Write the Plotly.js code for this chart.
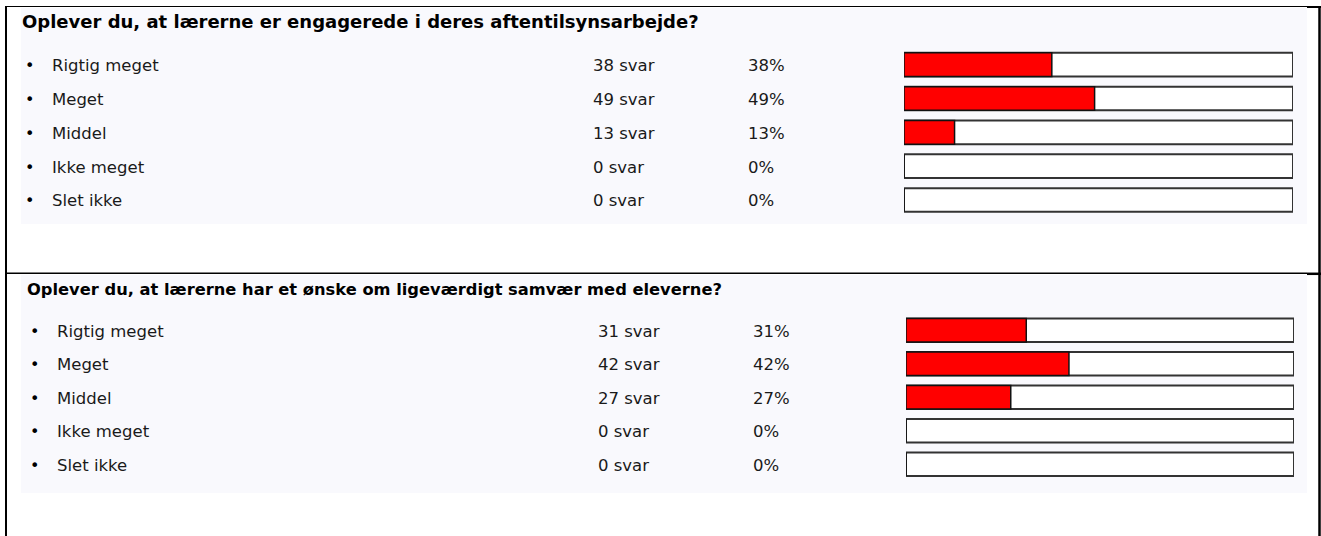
<!DOCTYPE html>
<html>
<head>
<meta charset="utf-8">
<script src="https://cdn.plot.ly/plotly-3.0.1.min.js"></script>
<style>html,body{margin:0;padding:0;background:#fff;}#chart{width:1321px;height:536px;}</style>
</head>
<body>
<div id="chart"></div>
<script>
// ---- data ----
const categories = ["Rigtig meget", "Meget", "Middel", "Ikke meget", "Slet ikke"];
const q1Title = "Oplever du, at lærerne er engagerede i deres aftentilsynsarbejde?";
const q1Counts = [38, 49, 13, 0, 0];
const q1Percent = [38, 49, 13, 0, 0];
const q2Title = "Oplever du, at lærerne har et ønske om ligeværdigt samvær med eleverne?";
const q2Counts = [31, 42, 27, 0, 0];
const q2Percent = [31, 42, 27, 0, 0];
const trackPercent = [100, 100, 100, 100, 100];
const countSuffix = " svar";

// ---- layout helpers ----
const W = 1321, H = 536;
const px = v => v / W;
const py = v => 1 - v / H;
const FONT = "DejaVu Sans, Verdana, sans-serif";

function panelTraces(xa, ya, pct) {
  return [
    {type: "bar", orientation: "h", x: trackPercent, y: categories, xaxis: xa, yaxis: ya,
     width: 0.7, marker: {color: "#ffffff", line: {color: "#333333", width: 2}},
     hoverinfo: "skip", showlegend: false},
    {type: "bar", orientation: "h", x: pct, y: categories, xaxis: xa, yaxis: ya,
     width: 0.7, marker: {color: "#ff0000", line: {color: "#111111", width: 1.5}},
     hoverinfo: "skip", showlegend: false}
  ];
}

const data = [...panelTraces("x", "y", q1Percent), ...panelTraces("x2", "y2", q2Percent)];

const annotations = [];
function panelText(yref, counts, pct, title, xo, titleY, titleSize) {
  annotations.push({xref: "paper", yref: "paper", x: px(20 + xo), y: py(titleY), xanchor: "left", yanchor: "middle",
    text: "<b>" + title + "</b>", showarrow: false, font: {family: FONT, size: titleSize, color: "#000"}});
  categories.forEach((c, i) => {
    const base = {xref: "paper", yref: yref, y: i, yanchor: "middle", xanchor: "left", showarrow: false, yshift: -1,
      font: {family: FONT, size: 16.5, color: "#1a1a1a"}};
    annotations.push({...base, x: px(23 + xo), text: "•", font: {family: FONT, size: 16, color: "#000"}});
    annotations.push({...base, x: px(50 + xo), text: c});
    annotations.push({...base, x: px(591 + xo), text: counts[i] + countSuffix});
    annotations.push({...base, x: px(746 + xo), text: pct[i] + "%"});
  });
}
panelText("y", q1Counts, q1Percent, q1Title, 0, 22, 18);
panelText("y2", q2Counts, q2Percent, q2Title, 5, 289.5, 16.3);

const shapes = [
  // panel backgrounds
  {type: "rect", xref: "paper", yref: "paper", x0: px(21), x1: px(1307), y0: py(8), y1: py(224), fillcolor: "#f9f9fd", line: {width: 0}, layer: "below"},
  {type: "rect", xref: "paper", yref: "paper", x0: px(21), x1: px(1307), y0: py(275), y1: py(493), fillcolor: "#f9f9fd", line: {width: 0}, layer: "below"},
  // frame
  {type: "line", xref: "paper", yref: "paper", x0: px(6), x1: px(6), y0: py(6), y1: py(536), line: {color: "#000", width: 2}},
  {type: "line", xref: "paper", yref: "paper", x0: px(5), x1: px(1307), y0: py(6.5), y1: py(6.5), line: {color: "#000", width: 1.2}},
  {type: "line", xref: "paper", yref: "paper", x0: px(1307), x1: px(1321), y0: py(7), y1: py(7), line: {color: "#000", width: 2}},
  {type: "line", xref: "paper", yref: "paper", x0: px(1319.5), x1: px(1319.5), y0: py(6), y1: py(536), line: {color: "#000", width: 2.5}},
  {type: "line", xref: "paper", yref: "paper", x0: px(5), x1: px(1307), y0: py(273.3), y1: py(273.3), line: {color: "#000", width: 1.5}},
  {type: "line", xref: "paper", yref: "paper", x0: px(1307), x1: px(1321), y0: py(273.8), y1: py(273.8), line: {color: "#000", width: 2.5}}
];

const axX = (l, r) => ({domain: [px(l), px(r)], range: [0, 100], visible: false, fixedrange: true});
const axY = (top, bottom, anchor) => ({domain: [py(bottom), py(top)], type: "category", categoryarray: categories,
  range: [4.5, -0.5], visible: false, fixedrange: true, anchor: anchor});

const layout = {
  width: W, height: H,
  margin: {l: 0, r: 0, t: 0, b: 0},
  paper_bgcolor: "#ffffff", plot_bgcolor: "rgba(0,0,0,0)",
  barmode: "overlay",
  showlegend: false,
  xaxis: {...axX(904, 1293), anchor: "y"},
  yaxis: axY(47.8, 216.9, "x"),
  xaxis2: {...axX(906, 1294), anchor: "y2"},
  yaxis2: axY(313.6, 481, "x2"),
  shapes: shapes,
  annotations: annotations
};

Plotly.newPlot("chart", data, layout, {displayModeBar: false, staticPlot: true});
</script>
</body>
</html>
